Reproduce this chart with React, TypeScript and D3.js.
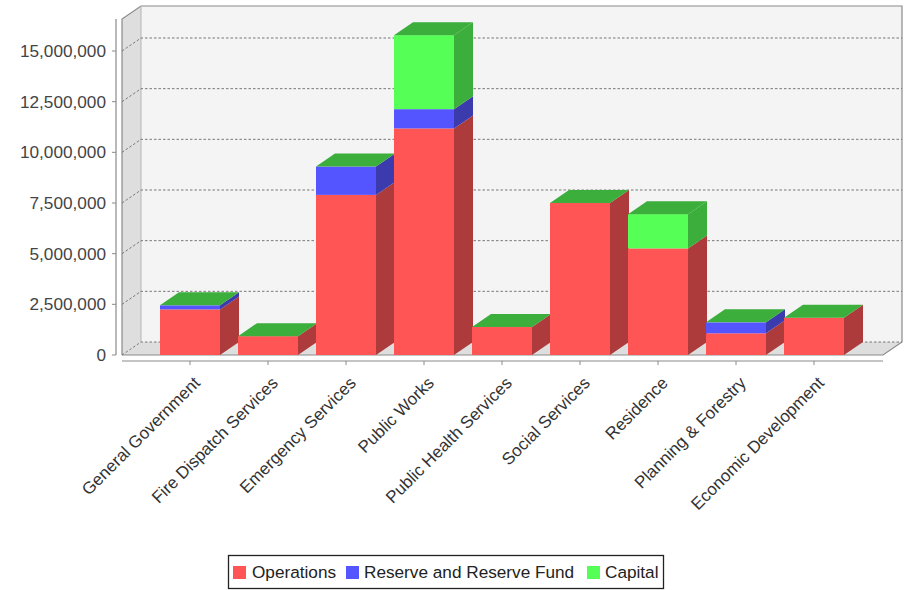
import React from "react";
import * as d3 from "d3";

const categories = [
  "General Government",
  "Fire Dispatch Services",
  "Emergency Services",
  "Public Works",
  "Public Health Services",
  "Social Services",
  "Residence",
  "Planning & Forestry",
  "Economic Development",
];
const operations = [2250000, 930000, 7900000, 11180000, 1380000, 7500000, 5260000, 1070000, 1840000];
const reserve = [200000, 0, 1400000, 950000, 0, 0, 0, 540000, 0];
const capital = [0, 0, 0, 3650000, 0, 0, 1690000, 0, 0];
const yTicks = [0, 2500000, 5000000, 7500000, 10000000, 12500000, 15000000];

const seriesList = [
  { name: "Operations", values: operations, front: "#ff5555", side: "#ae3b3b" },
  { name: "Reserve and Reserve Fund", values: reserve, front: "#5555ff", side: "#3b3bae" },
  { name: "Capital", values: capital, front: "#55ff55", side: "#3bae3b" },
];
const topColor = "#3bae3b";

const W = 907;
const H = 590;
const DX = 19;
const DY = 13;
const left = 122;
const right = 883;
const bottom = 355;
const top = 19;

const y = d3.scaleLinear().domain([0, 15000000]).range([bottom, 51]);
const x = d3.scaleBand<string>().domain(categories).range([160, 844]).paddingInner(18 / 78).paddingOuter(0);
const fmt = d3.format(",");
const font = "'Liberation Sans', Arial, sans-serif";
const poly = (pts: [number, number][]) => pts.map((p) => p.join(",")).join(" ");

const legendItems = [
  { sw: 233, tx: 252, series: seriesList[0] },
  { sw: 346, tx: 364, series: seriesList[1] },
  { sw: 587, tx: 605, series: seriesList[2] },
];

export default function App() {
  const bw = x.bandwidth();
  return (
    <svg width={W} height={H} style={{ position: "absolute", left: 0, top: 0, background: "#fff" }} fontFamily={font}>
      {/* back wall, side wall and floor */}
      <rect x={left + DX} y={top - DY} width={right - left} height={bottom - top} fill="#f4f4f4" />
      <polygon
        points={poly([[left, top], [left + DX, top - DY], [left + DX, bottom - DY], [left, bottom]])}
        fill="#dedede"
      />
      <polygon
        points={poly([[left, bottom], [left + DX, bottom - DY], [right + DX, bottom - DY], [right, bottom]])}
        fill="#dedede"
      />
      <path
        d={`M${left},${bottom}V${top}L${left + DX},${top - DY}H${right + DX}V${bottom - DY}L${right},${bottom}H${left}`}
        fill="none"
        stroke="#8a8a8a"
        strokeWidth={1.2}
      />
      <path d={`M${left + DX},${top - DY}V${bottom - DY}`} stroke="#b5b5b5" fill="none" />

      {/* gridlines */}
      {yTicks.map((t) => (
        <path
          key={t}
          d={`M${left},${y(t)}L${left + DX},${y(t) - DY}H${right + DX}`}
          fill="none"
          stroke="#777"
          strokeWidth={1}
          strokeDasharray="2.5,2"
        />
      ))}

      {/* stacked bars */}
      {categories.map((c, i) => {
        const x0 = x(c) as number;
        const x1 = x0 + bw;
        let acc = 0;
        const segs = seriesList.map((s) => {
          const start = acc;
          acc += s.values[i];
          return { s, start, end: acc };
        });
        const yTop = y(acc);
        return (
          <g key={c}>
            {segs
              .filter((g) => g.end > g.start)
              .map((g) => (
                <g key={g.s.name}>
                  <polygon
                    points={poly([
                      [x1, y(g.start)],
                      [x1 + DX, y(g.start) - DY],
                      [x1 + DX, y(g.end) - DY],
                      [x1, y(g.end)],
                    ])}
                    fill={g.s.side}
                  />
                  <rect x={x0} y={y(g.end)} width={bw} height={y(g.start) - y(g.end)} fill={g.s.front} />
                </g>
              ))}
            <polygon
              points={poly([[x0, yTop], [x0 + DX, yTop - DY], [x1 + DX, yTop - DY], [x1, yTop]])}
              fill={topColor}
            />
          </g>
        );
      })}

      {/* value axis */}
      <line x1={116} x2={116} y1={top} y2={bottom} stroke="#8a8a8a" strokeWidth={1.2} />
      {yTicks.map((t) => (
        <g key={t}>
          <line x1={112} x2={116} y1={y(t)} y2={y(t)} stroke="#8a8a8a" />
          <text x={106} y={y(t) + 6} textAnchor="end" fontSize={17.2} fill="#444">
            {fmt(t)}
          </text>
        </g>
      ))}

      {/* category axis */}
      <line x1={left} x2={right} y1={361} y2={361} stroke="#8a8a8a" strokeWidth={1.2} />
      {categories.map((c) => {
        const cx = (x(c) as number) + bw / 2;
        return (
          <g key={c}>
            <line x1={cx} x2={cx} y1={361} y2={365} stroke="#8a8a8a" />
            <text
              transform={`translate(${cx + 11},${384}) rotate(-45)`}
              textAnchor="end"
              fontSize={17}
              fill="#333"
            >
              {c}
            </text>
          </g>
        );
      })}

      {/* legend */}
      <rect x={228.5} y={555.5} width={435} height={33} fill="#fff" stroke="#222" strokeWidth={1.3} />
      {legendItems.map((l) => (
        <g key={l.series.name}>
          <rect x={l.sw} y={566} width={13} height={13} fill={l.series.front} />
          <text x={l.tx} y={578} fontSize={17.2} fill="#222">
            {l.series.name}
          </text>
        </g>
      ))}
    </svg>
  );
}
